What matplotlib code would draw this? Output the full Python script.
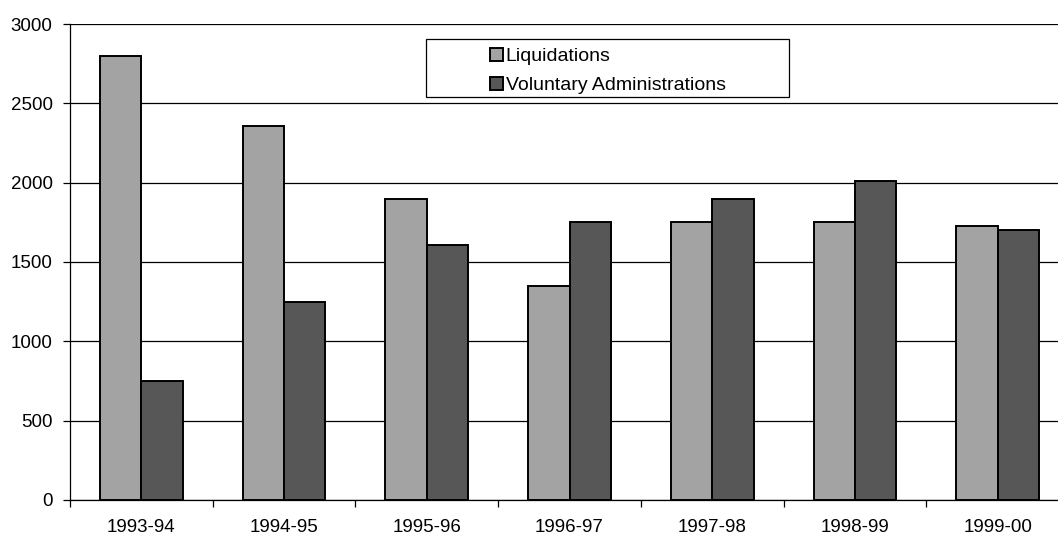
import numpy as np
import matplotlib.pyplot as plt
from matplotlib.patches import Rectangle

plt.rcParams['font.family'] = ['Liberation Sans', 'DejaVu Sans']

# data
years = ['1993-94', '1994-95', '1995-96', '1996-97', '1997-98', '1998-99', '1999-00']
liquidations = [2800, 2360, 1900, 1350, 1750, 1750, 1730]
voluntary_admin = [750, 1250, 1610, 1750, 1900, 2010, 1700]

fig = plt.figure(figsize=(10.58, 5.35), dpi=100)
# axes runs a little past the right edge, like the cropped original
ax = fig.add_axes([70 / 1058, 35 / 535, 999 / 1058, 476 / 535])

x = np.arange(len(years))
width = 0.29
ax.bar(x - width / 2, liquidations, width, color='#a3a3a3', edgecolor='black',
       linewidth=1.4, label='Liquidations', zorder=3)
ax.bar(x + width / 2, voluntary_admin, width, color='#575757', edgecolor='black',
       linewidth=1.4, label='Voluntary Administrations', zorder=3)

ax.set_xlim(-0.5, len(years) - 0.5)
ax.set_ylim(0, 3000)
ax.set_yticks(np.arange(0, 3001, 500))
ax.yaxis.grid(True, color='black', linewidth=0.9, zorder=0)
ax.set_axisbelow(True)

# labels under the groups, tick marks between the groups
ax.set_xticks(x)
ax.set_xticklabels(years)
ax.set_xticks(np.arange(len(years) + 1) - 0.5, minor=True)
ax.tick_params(axis='x', which='major', length=0, pad=14, labelsize=13.5)
ax.tick_params(axis='x', which='minor', length=5, width=0.9, direction='out')
ax.tick_params(axis='y', length=5, width=0.9, pad=7.5, labelsize=13.5)

for side in ['top', 'right']:
    ax.spines[side].set_visible(False)
ax.spines['left'].set_linewidth(0.9)
ax.spines['bottom'].set_linewidth(0.9)

# legend box drawn by hand, wider than its contents
fig.patches.append(Rectangle((426 / 1058, 1 - 97 / 535), 363 / 1058, 58 / 535,
                             transform=fig.transFigure, facecolor='white',
                             edgecolor='black', linewidth=0.9, zorder=5))
leg = fig.legend(loc='upper left', bbox_to_anchor=(490 / 1058, 1 - 48 / 535),
                 frameon=False, fontsize=14, borderpad=0, borderaxespad=0,
                 handlelength=0.65, handleheight=0.65, handletextpad=0.15,
                 labelspacing=0.6)
leg.set_zorder(6)

fig.savefig('out.png', dpi=100)
